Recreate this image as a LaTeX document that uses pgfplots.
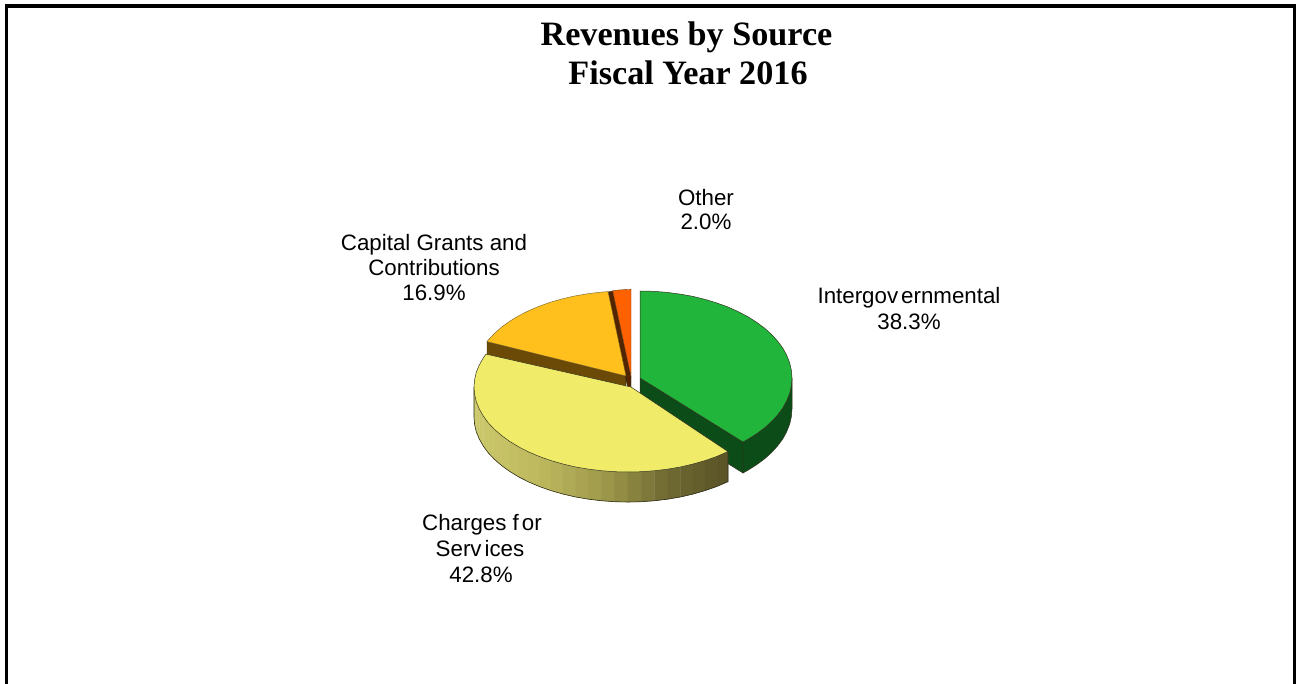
\documentclass[border=0pt]{standalone}
\usepackage{pgfplots}
\pgfplotsset{compat=1.18}
\usepackage{fontspec}
\setmainfont{Liberation Sans}
\newfontfamily\titlefont{Liberation Serif}
\definecolor{cgreen}{RGB}{33,181,59}
\definecolor{cgreenw}{RGB}{11,76,24}
\definecolor{cyellow}{RGB}{240,236,106}
\definecolor{cgold}{RGB}{255,192,30}
\definecolor{cgoldw}{RGB}{107,74,8}
\definecolor{corange}{RGB}{255,96,0}
\definecolor{corangew}{RGB}{82,36,0}
\definecolor{edge}{RGB}{50,50,30}
\newcommand\lab[3]{\node[anchor=base,inner sep=0pt,font=\fontsize{22.4}{24}\selectfont] at (axis cs:#1,#2) {#3};}
\newcommand\ttl[3]{\node[anchor=base,inner sep=0pt,font=\titlefont\bfseries\fontsize{34.3}{36}\selectfont] at (axis cs:#1,#2) {#3};}
\begin{document}
\begin{tikzpicture}
\path[use as bounding box] (0,0) rectangle (1296bp,684bp);
\begin{axis}[
  at={(0,0)},anchor=south west,
  scale only axis,width=1296bp,height=684bp,
  xmin=0,xmax=1296,ymin=0,ymax=684,y dir=reverse,
  hide axis,clip=true,
  point meta min=474,point meta max=730,
  colormap={wall}{rgb255=(204,200,108) rgb255=(190,185,94) rgb255=(160,154,76) rgb255=(112,106,51) rgb255=(88,82,38)},
]
% frame
\addplot[black,line width=3.6bp,line join=miter] coordinates {(6.5,690)(6.5,6)(1294.6,6)(1294.6,690)};

% green walls
\addplot[fill=cgreenw,draw=edge,line width=0.5bp] coordinates {(640,378)(743,442)(743,473)(640,409)} -- cycle;
\addplot[fill=cgreenw,draw=edge,line width=0.5bp] coordinates {(792,378)(791.4,385.6)(789.7,393.1)(786.8,400.5)(782.9,407.8)(777.7,414.8)(771.6,421.5)(764.5,427.9)(756.4,433.9)(747.5,439.5)(743,442)
 (743,473)(747.5,470.5)(756.4,464.9)(764.5,458.9)(771.6,452.5)(777.7,445.8)(782.9,438.8)(786.8,431.5)(789.7,424.1)(791.4,416.6)(792,409)} -- cycle;
% green top
\addplot[fill=cgreen,draw=edge,line width=0.5bp] coordinates {(640,378)(640,291)(653.2,291.3)(666.4,292.3)(679.4,294.0)(692.0,296.2)(704.3,299.2)(716,302.7)(727.2,306.7)(737.7,311.4)(747.5,316.5)(756.4,322.1)(764.5,328.1)(771.6,334.5)(777.7,341.2)(782.9,348.2)(786.8,355.5)(789.7,362.9)(791.4,370.4)(792,378)(791.4,385.6)(789.7,393.1)(786.8,400.5)(782.9,407.8)(777.7,414.8)(771.6,421.5)(764.5,427.9)(756.4,433.9)(747.5,439.5)(743,442)} -- cycle;

% gold and orange walls
\addplot[fill=cgoldw,draw=edge,line width=0.4bp] coordinates {(487,341.6)(626,376)(626,406)(487,371.6)} -- cycle;
\addplot[fill=corangew,draw=edge,line width=0.4bp] coordinates {(608,292)(612.7,291)(631,376.5)(631,400)(626,380)} -- cycle;
% gold top
\addplot[fill=cgold,draw=edge!70!cgold,line width=0.4bp] coordinates {(626,376)(487,341.6)(488.3,340.0)(494.4,333.5)(501.5,327.2)(509.6,321.3)(518.5,315.9)(528.3,310.9)(538.8,306.4)(550,302.4)(561.7,299.0)(574.0,296.1)(586.6,293.9)(599.6,292.3)(608,291.6)} -- cycle;
% orange top
\addplot[fill=corange,draw=edge!70!corange,line width=0.4bp] coordinates {(631,376.5)(612.7,290.7)(621,289.8)(631,289.4)} -- cycle;

% yellow wall
\addplot[surf,shader=flat,mesh/rows=2,point meta=x] coordinates {
(474,387)(474.6,394.4)(476.3,401.8)(479.3,409.0)(483.3,416.1)(488.4,423.0)(494.6,429.5)(501.9,435.8)(510.0,441.6)(519.1,447.1)(529.0,452.1)(539.6,456.6)(551,460.6)(562.9,464.0)(575.3,466.9)(588.1,469.1)(601.3,470.7)(614.6,471.7)(628,472)(641.4,471.7)(654.7,470.7)(667.9,469.1)(680.7,466.9)(693.1,464.0)(705,460.6)(716.4,456.6)(728,451.6)

(474,417)(474.6,424.4)(476.3,431.8)(479.3,439.0)(483.3,446.1)(488.4,453.0)(494.6,459.5)(501.9,465.8)(510.0,471.6)(519.1,477.1)(529.0,482.1)(539.6,486.6)(551,490.6)(562.9,494.0)(575.3,496.9)(588.1,499.1)(601.3,500.7)(614.6,501.7)(628,502)(641.4,501.7)(654.7,500.7)(667.9,499.1)(680.7,496.9)(693.1,494.0)(705,490.6)(716.4,486.6)(728,481.6)
};
\addplot[draw=edge,line width=0.6bp] coordinates {(474,387)(474,417)(474.6,424.4)(476.3,431.8)(479.3,439.0)(483.3,446.1)(488.4,453.0)(494.6,459.5)(501.9,465.8)(510.0,471.6)(519.1,477.1)(529.0,482.1)(539.6,486.6)(551,490.6)(562.9,494.0)(575.3,496.9)(588.1,499.1)(601.3,500.7)(614.6,501.7)(628,502)(641.4,501.7)(654.7,500.7)(667.9,499.1)(680.7,496.9)(693.1,494.0)(705,490.6)(716.4,486.6)(728,481.6)(728,451.6)};
% yellow top
\addplot[fill=cyellow,draw=edge,line width=0.5bp] coordinates {(631,387)(728,451.6)(716.4,456.6)(705,460.6)(693.1,464.0)(680.7,466.9)(667.9,469.1)(654.7,470.7)(641.4,471.7)(628,472)(614.6,471.7)(601.3,470.7)(588.1,469.1)(575.3,466.9)(562.9,464.0)(551,460.6)(539.6,456.6)(529.0,452.1)(519.1,447.1)(510.0,441.6)(501.9,435.8)(494.6,429.5)(488.4,423.0)(483.3,416.1)(479.3,409.0)(476.3,401.8)(474.6,394.4)(474,387)(474.6,379.6)(476.3,372.2)(479.3,365.0)(483.3,357.9)(486,354.1)} -- cycle;

% texts
\ttl{686.5}{46}{Revenues by Source}
\ttl{688}{85}{Fiscal Year 2016}
\lab{434}{250}{Capital Grants and}
\lab{434}{275}{Contributions}
\lab{434}{300}{16.9\%}
\lab{706}{205}{Other}
\lab{706}{229}{2.0\%}
\lab{909}{303}{Intergov\kern3bp ernmental}
\lab{909}{329}{38.3\%}
\lab{482}{530}{Charges f\kern3bp or}
\lab{480}{556}{Serv\kern3bp ices}
\lab{481}{582}{42.8\%}
\end{axis}
\end{tikzpicture}
\end{document}
